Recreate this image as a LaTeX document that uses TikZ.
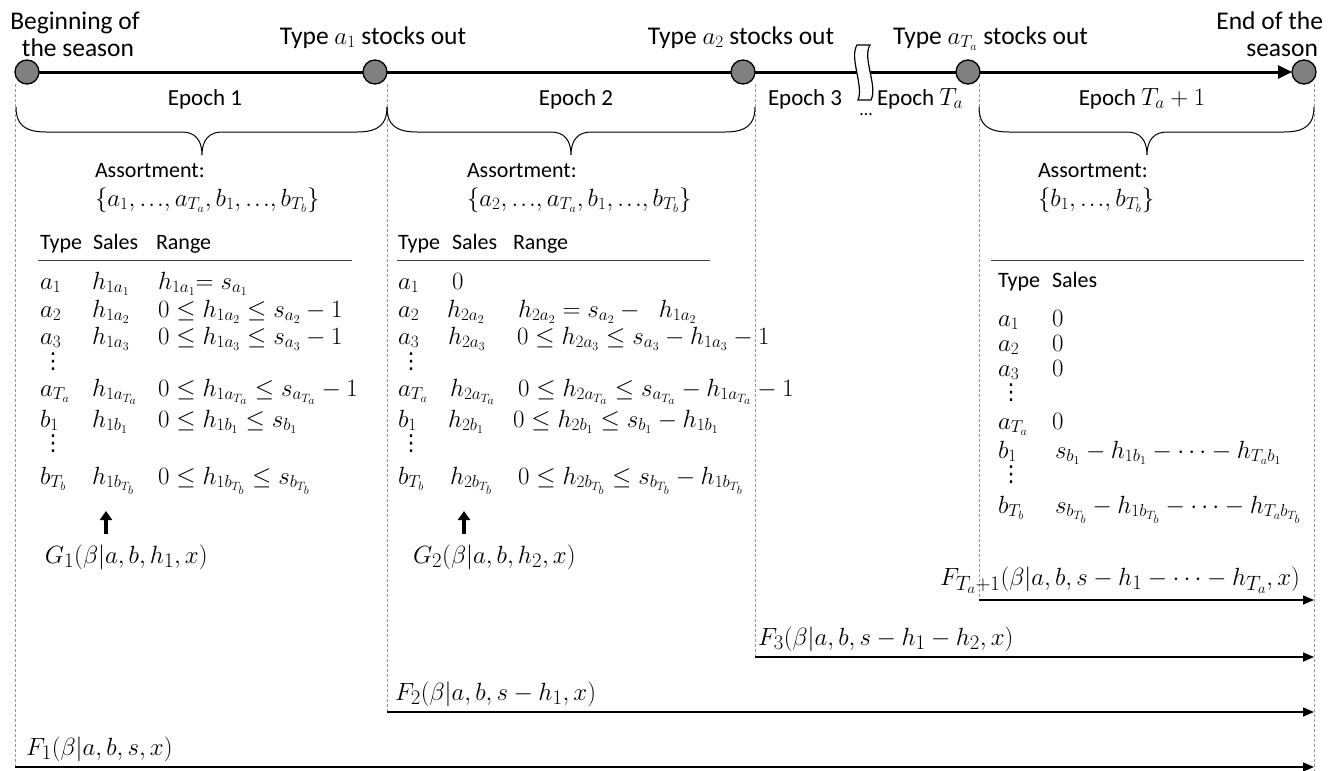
\documentclass[tikz,border=0pt]{standalone}
\usepackage{fontspec}
\setmainfont{Carlito}
\newfontfamily\djv{DejaVu Sans}
\usetikzlibrary{arrows.meta}
\definecolor{ptgray}{RGB}{128,128,128}
\definecolor{guidegray}{RGB}{150,150,150}
\newcommand{\vd}{{\djv\fontsize{22}{24}\selectfont ⋮}}
\newcommand{\tdots}{\mathord{\ldotp\mkern-1.5mu\ldotp\mkern-1.5mu\ldotp}}
\begin{document}
\begin{tikzpicture}[x=1pt,y=-1pt,
  every node/.style={inner sep=0pt, outer sep=0pt, font=\fontsize{22}{26}\selectfont},
  lbl/.style={anchor=base west},
  clbl/.style={anchor=base},
  rlbl/.style={anchor=base east},
  toptxt/.style={font=\fontsize{25.5}{30}\selectfont},
  eptxt/.style={font=\fontsize{23}{27}\selectfont},
  mth/.style={anchor=base west, font=\fontsize{26}{30}\selectfont},
  setm/.style={anchor=base west, font=\fontsize{25}{29}\selectfont},
  bigm/.style={anchor=base west, font=\fontsize{30.5}{34}\selectfont},
  epochpt/.style={circle, draw=black, line width=1.3pt, fill=ptgray, minimum size=24pt},
  guide/.style={draw=guidegray, line width=0.8pt, dash pattern=on 3pt off 2pt},
  fvalue/.style={draw=black, line width=1.5pt, -{Triangle[length=11pt,width=9pt]}},
  upgoal/.style={draw=black, line width=3.5pt, -{Triangle[length=9pt,width=12pt]}},
  timeline/.style={draw=black, line width=3pt},
  bracepath/.style={draw=black, line width=1pt},
  rulepath/.style={draw=black!75, line width=1pt},
]
\useasboundingbox (0,0) rectangle (1342,771);

% guide lines (dashed)
\coordinate (g1t) at (15,84);    \coordinate (g1b) at (15,767);
\coordinate (g2t) at (387,84);   \coordinate (g2b) at (387,712);
\coordinate (g3t) at (755,84);   \coordinate (g3b) at (755,657);
\coordinate (g4t) at (979,84);   \coordinate (g4b) at (979,600);
\coordinate (g5t) at (1314,84);  \coordinate (g5b) at (1314,771);
\draw[guide] (g1t) -- (g1b);
\draw[guide] (g2t) -- (g2b);
\draw[guide] (g3t) -- (g3b);
\draw[guide] (g4t) -- (g4b);
\draw[guide] (g5t) -- (g5b);

% time points
\node[epochpt] (c1) at (27,72) {};
\node[epochpt] (c2) at (375,72) {};
\node[epochpt] (c3) at (743,72) {};
\node[epochpt] (c4) at (968,72) {};
\node[epochpt] (c5) at (1304,72) {};
\draw[timeline] (c1.east) -- (c2.west);
\draw[timeline] (c2.east) -- (c3.west);
\draw[timeline] (c3.east) -- (c4.west);
\draw[timeline, -{Triangle[length=14pt,width=13pt]}] (c4.east) -- (c5.west);

% break symbol
\draw[fill=white, line width=1.2pt] (857,45) -- (870,45)
  .. controls (862,58) and (878,86) .. (871,100) -- (858,100)
  .. controls (864,86) and (849,58) .. (857,45) -- cycle;
\node[clbl, font=\fontsize{18}{20}\selectfont] (dots) at (866,115) {…};

% top labels
\node[clbl, toptxt] (beg1) at (75,30) {Beginning of};
\node[clbl, toptxt] (beg2) at (78,56) {the season};
\node[clbl, toptxt] (so1) at (373,44) {Type $a_1$ stocks out};
\node[clbl, toptxt] (so2) at (741,44) {Type $a_2$ stocks out};
\node[lbl, toptxt] (so3) at (893,44) {Type $a_{T_a}$ stocks out};
\node[rlbl, toptxt] (end1) at (1323,30) {End of the};
\node[rlbl, toptxt] (end2) at (1318,56) {season};

% epoch labels
\node[clbl, eptxt] (ep1) at (205,105) {Epoch 1};
\node[clbl, eptxt] (ep2) at (576,105) {Epoch 2};
\node[lbl, eptxt] (ep3) at (768,105) {Epoch 3};
\node[lbl, eptxt] (epT) at (877,105) {Epoch $T_a$};
\node[clbl, eptxt] (epT1) at (1142,105) {Epoch $T_a+1$};

% braces
\draw[bracepath] (16,107) .. controls (16,124) and (24,132) .. (46,132) -- (182,132)
  .. controls (195,132) and (202,140) .. (202,155)
  .. controls (202,140) and (209,132) .. (222,132) -- (357,132)
  .. controls (379,132) and (387,124) .. (387,107);
\draw[bracepath] (387,107) .. controls (387,124) and (395,132) .. (417,132) -- (551,132)
  .. controls (564,132) and (571,140) .. (571,155)
  .. controls (571,140) and (578,132) .. (591,132) -- (725,132)
  .. controls (747,132) and (755,124) .. (755,107);
\draw[bracepath] (979,107) .. controls (979,124) and (987,132) .. (1009,132) -- (1127,132)
  .. controls (1140,132) and (1147,140) .. (1147,155)
  .. controls (1147,140) and (1154,132) .. (1167,132) -- (1284,132)
  .. controls (1306,132) and (1314,124) .. (1314,107);

% ---------- table 1 ----------
\node[lbl] (as1) at (95,177) {Assortment:};
\node[setm] (as1s) at (95,206) {$\{a_1,\tdots,a_{T_a},b_1,\tdots,b_{T_b}\}$};
\node[lbl] (t1ht) at (40,249) {Type};
\node[lbl] (t1hs) at (93,249) {Sales};
\node[lbl] (t1hr) at (156,249) {Range};
\coordinate (t1l) at (38,260); \coordinate (t1r) at (352,260);
\draw[rulepath] (t1l) -- (t1r);
\node[mth] (t1a1) at (40,289) {$a_1$};
\node[mth] (t1a1s) at (92,289) {$h_{1a_1}$};
\node[mth] (t1a1r) at (158,289) {$h_{1a_1}{=}\;s_{a_1}$};
\node[mth] (t1a2) at (40,317) {$a_2$};
\node[mth] (t1a2s) at (92,317) {$h_{1a_2}$};
\node[mth] (t1a2r) at (158,317) {$0\le h_{1a_2}\le s_{a_2}-1$};
\node[mth] (t1a3) at (40,344) {$a_3$};
\node[mth] (t1a3s) at (92,344) {$h_{1a_3}$};
\node[mth] (t1a3r) at (158,344) {$0\le h_{1a_3}\le s_{a_3}-1$};
\node[lbl] (t1d1) at (42,368) {\vd};
\node[mth] (t1aT) at (40,396) {$a_{T_a}$};
\node[mth] (t1aTs) at (92,396) {$h_{1a_{T_a}}$};
\node[mth] (t1aTr) at (158,396) {$0\le h_{1a_{T_a}}\le s_{a_{T_a}}-1$};
\node[mth] (t1b1) at (40,427) {$b_1$};
\node[mth] (t1b1s) at (92,427) {$h_{1b_1}$};
\node[mth] (t1b1r) at (158,427) {$0\le h_{1b_1}\le s_{b_1}$};
\node[lbl] (t1d2) at (42,450) {\vd};
\node[mth] (t1bT) at (40,484) {$b_{T_b}$};
\node[mth] (t1bTs) at (92,484) {$h_{1b_{T_b}}$};
\node[mth] (t1bTr) at (158,484) {$0\le h_{1b_{T_b}}\le s_{b_{T_b}}$};
\node[bigm] (G1) at (45,563) {$G_1(\beta|a,b,h_1,x)$};
\coordinate (u1a) at (106,534); \coordinate (u1b) at (106,511);
\draw[upgoal] (u1a) -- (u1b);

% ---------- table 2 ----------
\node[lbl] (as2) at (467,177) {Assortment:};
\node[setm] (as2s) at (467,206) {$\{a_2,\tdots,a_{T_a},b_1,\tdots,b_{T_b}\}$};
\node[lbl] (t2ht) at (398,249) {Type};
\node[lbl] (t2hs) at (452,249) {Sales};
\node[lbl] (t2hr) at (513,249) {Range};
\coordinate (t2l) at (397,260); \coordinate (t2r) at (710,260);
\draw[rulepath] (t2l) -- (t2r);
\node[mth] (t2a1) at (398,289) {$a_1$};
\node[mth] (t2a1s) at (452,289) {$0$};
\node[mth] (t2a2) at (398,317) {$a_2$};
\node[mth] (t2a2s) at (447,317) {$h_{2a_2}$};
\node[mth] (t2a2r) at (518,317) {$h_{2a_2}=s_{a_2}-\;\;h_{1a_2}$};
\node[mth] (t2a3) at (398,344) {$a_3$};
\node[mth] (t2a3s) at (448,344) {$h_{2a_3}$};
\node[mth] (t2a3r) at (517,344) {$0\le h_{2a_3}\le s_{a_3}-h_{1a_3}-1$};
\node[lbl] (t2d1) at (400,368) {\vd};
\node[mth] (t2aT) at (398,396) {$a_{T_a}$};
\node[mth] (t2aTs) at (450,396) {$h_{2a_{T_a}}$};
\node[mth] (t2aTr) at (518,396) {$0\le h_{2a_{T_a}}\le s_{a_{T_a}}-h_{1a_{T_a}}-1$};
\node[mth] (t2b1) at (398,427) {$b_1$};
\node[mth] (t2b1s) at (448,427) {$h_{2b_1}$};
\node[mth] (t2b1r) at (513,427) {$0\le h_{2b_1}\le s_{b_1}-h_{1b_1}$};
\node[lbl] (t2d2) at (400,450) {\vd};
\node[mth] (t2bT) at (398,484) {$b_{T_b}$};
\node[mth] (t2bTs) at (450,484) {$h_{2b_{T_b}}$};
\node[mth] (t2bTr) at (518,484) {$0\le h_{2b_{T_b}}\le s_{b_{T_b}}-h_{1b_{T_b}}$};
\node[bigm] (G2) at (413,563) {$G_2(\beta|a,b,h_2,x)$};
\coordinate (u2a) at (464,534); \coordinate (u2b) at (464,511);
\draw[upgoal] (u2a) -- (u2b);

% ---------- table 3 ----------
\node[lbl] (as3) at (1038,177) {Assortment:};
\node[setm] (as3s) at (1038,206) {$\{b_1,\tdots,b_{T_b}\}$};
\coordinate (t3l) at (991,260); \coordinate (t3r) at (1304,260);
\draw[rulepath] (t3l) -- (t3r);
\node[lbl] (t3ht) at (998,287) {Type};
\node[lbl] (t3hs) at (1052,287) {Sales};
\node[mth] (t3a1) at (998,326) {$a_1$};
\node[mth] (t3a1s) at (1052,326) {$0$};
\node[mth] (t3a2) at (998,351) {$a_2$};
\node[mth] (t3a2s) at (1052,351) {$0$};
\node[mth] (t3a3) at (998,376) {$a_3$};
\node[mth] (t3a3s) at (1052,376) {$0$};
\node[lbl] (t3d1) at (1000,399) {\vd};
\node[mth] (t3aT) at (998,429) {$a_{T_a}$};
\node[mth] (t3aTs) at (1052,429) {$0$};
\node[mth] (t3b1) at (998,458) {$b_1$};
\node[mth] (t3b1s) at (1055,458) {$s_{b_1}-h_{1b_1}-\cdots-h_{T_ab_1}$};
\node[lbl] (t3d2) at (1000,481) {\vd};
\node[mth] (t3bT) at (998,513) {$b_{T_b}$};
\node[mth] (t3bTs) at (1055,513) {$s_{b_{T_b}}-h_{1b_{T_b}}-\cdots-h_{T_ab_{T_b}}$};

% ---------- value functions ----------
\coordinate (f4a) at (979,600); \coordinate (f4b) at (1314,600);
\coordinate (f3a) at (755,657); \coordinate (f3b) at (1314,657);
\coordinate (f2a) at (387,712); \coordinate (f2b) at (1314,712);
\coordinate (f1a) at (15,767);  \coordinate (f1b) at (1314,767);
\draw[fvalue] (f4a) -- (f4b);
\draw[fvalue] (f3a) -- (f3b);
\draw[fvalue] (f2a) -- (f2b);
\draw[fvalue] (f1a) -- (f1b);
\node[bigm, font=\fontsize{29}{32}\selectfont] (F4) at (940,585) {$F_{T_a+1}(\beta|a,b,s-h_1-\cdots-h_{T_a},x)$};
\node[bigm] (F3) at (758,645) {$F_3(\beta|a,b,s-h_1-h_2,x)$};
\node[bigm] (F2) at (395,700) {$F_2(\beta|a,b,s-h_1,x)$};
\node[bigm] (F1) at (26,755) {$F_1(\beta|a,b,s,x)$};
\end{tikzpicture}
\end{document}
